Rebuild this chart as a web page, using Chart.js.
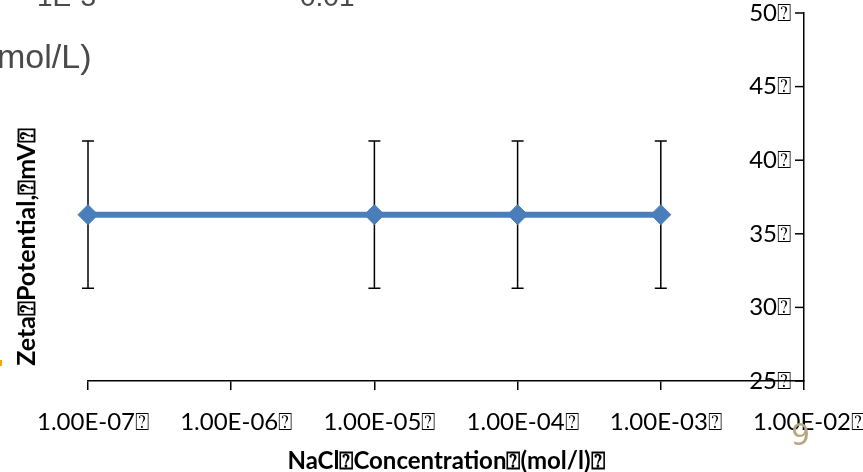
<!DOCTYPE html>
<html>
<head>
<meta charset="utf-8">
<script src="https://cdn.jsdelivr.net/npm/chart.js@4.4.1/dist/chart.umd.min.js"></script>
<style>
  html, body { margin: 0; padding: 0; background: #fff; }
  #wrap { position: relative; width: 863px; height: 472px; overflow: hidden; }
  .frag { position: absolute; font-family: "Liberation Sans", Arial, sans-serif; color: #4a4a4a; filter: blur(0.5px); white-space: nowrap; }
</style>
</head>
<body>
<div id="wrap">
  <canvas id="zetaChart" width="863" height="472"></canvas>
  <div class="frag" style="left:37px; top:-19px; font-size:28px;">1E-3</div>
  <div class="frag" style="left:300px; top:-19px; font-size:28px;">0.01</div>
  <div class="frag" style="left:-3px; top:37px; font-size:34px;">mol/L)</div>
  <div class="frag" style="left:791px; top:417px; font-size:30px; color:#b8a67f; font-family:'DejaVu Sans', sans-serif; filter:none;">9</div>
  <div style="position:absolute; left:0; top:360px; width:2px; height:6px; background:#f5a800;"></div>
</div>
<script>
  // NaCl concentration (mol/l) vs zeta potential (mV)
  var concentrations = [1e-7, 1e-5, 1e-4, 1e-3];
  var zetaValues = [36.3, 36.3, 36.3, 36.3];
  var zetaErrors = [5, 5, 5, 5];

  var xTickValues = [1e-7, 1e-6, 1e-5, 1e-4, 1e-3, 1e-2];
  var xTickLabels = ["1.00E-07⍰", "1.00E-06⍰", "1.00E-05⍰", "1.00E-04⍰", "1.00E-03⍰", "1.00E-02⍰"];
  var yTickLabels = { 25: "25⍰", 30: "30⍰", 35: "35⍰", 40: "40⍰", 45: "45⍰", 50: "50⍰" };

  var xTitle = "NaCl⍰Concentration⍰(mol/l)⍰";
  var yTitle = "Zeta⍰Potential,⍰mV⍰";

  var labelFont = { family: "Lato, 'DejaVu Sans', sans-serif", size: 24 };
  var titleFont = { family: "Lato, 'DejaVu Sans', sans-serif", size: 24, weight: "bold" };

  var extras = {
    id: "extras",
    beforeDatasetsDraw: function (chart) {
      var xs = chart.scales.x, ys = chart.scales.y, ctx = chart.ctx;
      ctx.save();
      ctx.strokeStyle = "#000";
      ctx.lineWidth = 1.5;
      // error bars
      concentrations.forEach(function (c, i) {
        var px = xs.getPixelForValue(c);
        var top = ys.getPixelForValue(zetaValues[i] + zetaErrors[i]);
        var bot = ys.getPixelForValue(zetaValues[i] - zetaErrors[i]);
        ctx.beginPath();
        ctx.moveTo(px, top); ctx.lineTo(px, bot);
        ctx.moveTo(px - 6, top); ctx.lineTo(px + 6, top);
        ctx.moveTo(px - 6, bot); ctx.lineTo(px + 6, bot);
        ctx.stroke();
      });
      // inward tick marks on the right-hand value axis
      ys.ticks.forEach(function (t) {
        var py = ys.getPixelForValue(t.value);
        ctx.beginPath();
        ctx.moveTo(ys.left - 9, py); ctx.lineTo(ys.left, py);
        ctx.stroke();
      });
      ctx.restore();
    },
    afterDraw: function (chart) {
      var ctx = chart.ctx;
      ctx.save();
      ctx.fillStyle = "#000";
      ctx.font = "bold 25px Lato, 'DejaVu Sans', sans-serif";
      ctx.textAlign = "center";
      ctx.textBaseline = "middle";
      ctx.translate(27, 247);
      ctx.rotate(-Math.PI / 2);
      ctx.fillText(yTitle, 0, 0);
      ctx.restore();
    }
  };

  new Chart("zetaChart", {
    type: "line",
    data: {
      datasets: [
        {
          data: concentrations.map(function (c, i) { return { x: c, y: zetaValues[i] }; }),
          borderColor: "#4a7ebb",
          backgroundColor: "#4a7ebb",
          borderWidth: 6,
          pointStyle: "rectRot",
          pointRadius: 10,
          pointHoverRadius: 10,
          pointBorderWidth: 1,
          tension: 0,
          clip: false,
        },
      ],
    },
    options: {
      responsive: false,
      animation: false,
      layout: { padding: { top: 13, left: 88, right: 0, bottom: 0 } },
      plugins: { legend: { display: false }, tooltip: { enabled: false } },
      scales: {
        x: {
          type: "logarithmic",
          min: 1e-7,
          max: 1e-2,
          afterBuildTicks: function (scale) {
            scale.ticks = xTickValues.map(function (v) { return { value: v }; });
          },
          afterFit: function (scale) {
            scale.height = 91;
            scale.paddingLeft = 0;
            scale.paddingRight = 0;
          },
          ticks: {
            autoSkip: false,
            maxRotation: 0,
            color: "#000",
            font: labelFont,
            padding: 18,
            labelOffset: 5,
            callback: function (v, i) { return xTickLabels[i]; },
          },
          grid: { drawOnChartArea: false, tickLength: 9, color: "#000", lineWidth: 1.5 },
          border: { color: "#000", width: 1.5 },
          title: {
            display: true,
            text: xTitle,
            color: "#000",
            font: titleFont,
            padding: { top: 0, bottom: -4 },
          },
        },
        y: {
          position: "right",
          min: 25,
          max: 50,
          afterFit: function (scale) { scale.width = 59; },
          ticks: {
            stepSize: 5,
            mirror: true,
            padding: -13,
            color: "#000",
            font: labelFont,
            callback: function (v) { return yTickLabels[v]; },
          },
          grid: { drawOnChartArea: false, drawTicks: false },
          border: { color: "#000", width: 1.5 },
        },
      },
    },
    plugins: [extras],
  });
</script>
</body>
</html>
